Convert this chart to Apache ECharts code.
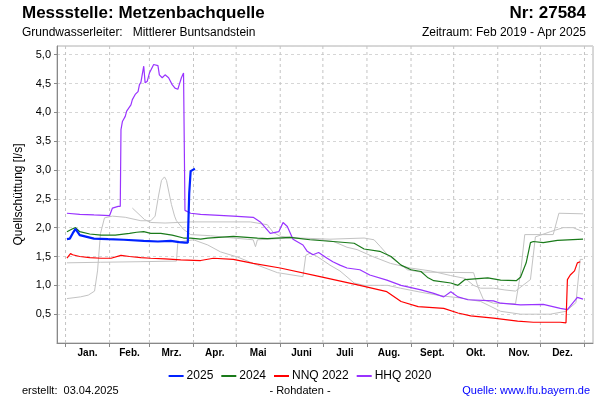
<!DOCTYPE html>
<html lang="de">
<head>
    <meta charset="UTF-8">
    <title>Messstelle Metzenbachquelle</title>
    <script src="https://cdn.jsdelivr.net/npm/echarts@6/dist/echarts.min.js"></script>
</head>
<body style="margin:0;background:#fff;">
    <div id="main" style="width:600px;height:400px;"></div>

<script>
// Tag im Jahr (0 = 1. Januar) und Schüttung in l/s
var monthNames = ['Jan.', 'Feb.', 'Mrz.', 'Apr.', 'Mai', 'Juni', 'Juli', 'Aug.', 'Sept.', 'Okt.', 'Nov.', 'Dez.'];
var monthStarts = [0, 31, 59, 90, 120, 151, 181, 212, 243, 273, 304, 334, 365];
var monthMids = [15.5, 45, 74.5, 105, 135.5, 166, 196.5, 227.5, 258, 288.5, 319, 349.5];

var data2025 = [[1,1.8],[3,1.81],[5,1.9],[7,1.98],[8,1.99],[10,1.87],[11,1.85],[20,1.81],[30,1.8],[41,1.79],
    [55,1.77],[65,1.76],[74,1.77],[80,1.75],[84,1.74],[86,1.74],[87,2.6],[88,2.98],[89,3.01],[91,3.02]];

var data2024 = [[1,1.93],[5,1.98],[7,2.0],[10,1.93],[17,1.89],[25,1.87],[35,1.87],[45,1.9],[50,1.92],[55,1.93],
    [60,1.9],[67,1.9],[75,1.87],[83,1.82],[88,1.82],[95,1.8],[100,1.82],[118,1.85],[135,1.82],[142,1.81],
    [158,1.83],[172,1.79],[188,1.76],[203,1.73],[210,1.63],[221,1.59],[229,1.5],[236,1.35],[243,1.27],
    [250,1.24],[255,1.13],[259,1.08],[271,1.04],[276,1.0],[281,1.1],[297,1.13],[306,1.09],[317,1.08],
    [320,1.14],[324,1.39],[327,1.74],[329,1.76],[336,1.74],[346,1.78],[364,1.8]];

var dataNNQ = [[1,1.47],[2,1.5],[3.5,1.55],[5,1.53],[10,1.5],[17,1.48],[25,1.47],[32,1.47],[39,1.52],[45,1.5],
    [53,1.48],[60,1.47],[70,1.46],[81,1.44],[95,1.43],[104,1.47],[118,1.45],[132,1.38],[151,1.3],[179,1.15],
    [207,1.0],[226,0.89],[236,0.72],[248,0.63],[266,0.6],[276,0.52],[285,0.47],[301,0.43],[318,0.38],
    [329,0.36],[348,0.36],[352,0.35],[353,1.1],[355,1.18],[358,1.25],[360,1.39],[362,1.41]];

var dataHHQ = [[1,2.25],[10,2.23],[20,2.22],[31,2.21],[33,2.34],[37,2.37],[38.5,2.37],[39,3.7],[40,3.84],
    [42,3.93],[43,4.02],[46,4.13],[47,4.22],[49,4.31],[51,4.36],[52,4.48],[53,4.52],[55,4.8],[56,4.51],
    [57.5,4.54],[59,4.68],[62,4.83],[63,4.81],[65,4.81],[66,4.65],[68,4.6],[70,4.65],[72.5,4.6],[75,4.48],
    [77,4.42],[79,4.4],[80,4.48],[81.5,4.6],[83,4.68],[84,2.3],[85,2.28],[88,2.25],[95,2.23],[118,2.2],
    [132,2.18],[137,2.1],[144,1.9],[150,1.93],[153,2.09],[156,2.02],[160,1.8],[167,1.7],[170,1.59],
    [174,1.53],[178,1.57],[184,1.47],[188,1.41],[193,1.35],[198,1.3],[207,1.27],[214,1.18],[226,1.09],
    [236,1.0],[250,0.92],[259,0.86],[266,0.8],[271,0.89],[276,0.8],[283,0.75],[301,0.73],[306,0.69],
    [320,0.66],[336,0.67],[348,0.6],[353,0.58],[360,0.79],[364,0.76]];

// weitere Jahre (grau)
var dataGrey1 = [[47,2.34],[55.6,2.14],[60,2.09],[70,2.08],[88,2.1],[130,2.1],[142,2.05],[146,1.92],[151,1.85],
    [165,1.82],[186,1.8],[210,1.82],[217,1.79],[221.5,1.67],[226.5,1.53],[240.5,1.27],[250,1.23],[287,1.22],
    [290,0.98],[294,0.75],[301,0.69],[316.5,0.68],[320,1.2],[323,1.88],[343,1.88],[347,2.25],[364,2.24]];

var dataGrey2 = [[1,0.77],[10.5,0.8],[16,0.83],[20.4,0.9],[22.5,1.25],[24.6,1.9],[27.4,2.17],[33,2.2],[42,2.18],
    [53,2.12],[60,2.12],[63,2.2],[65.4,2.55],[67.5,2.82],[69.6,2.88],[71,2.82],[72.4,2.83],[74.5,2.4],
    [76.7,2.2],[78,2.12],[83,1.97],[88,1.88],[102,1.86],[118,1.82],[132,1.79],[133.6,1.67],[135,1.79],
    [158,1.82],[179,1.79],[188.5,1.76],[198,1.66],[205,1.62],[216,1.5],[228.6,1.38],[242.6,1.3],
    [256.7,1.25],[270.8,1.17],[281,1.12],[287,1.0],[292,0.95],[301,0.95],[309,0.92],[316.5,0.9],
    [327,1.1],[330.5,1.84],[341,1.93],[350,2.0],[357,2.0],[364,1.93]];

var dataGrey3 = [[1,1.39],[24.6,1.4],[53,1.41],[78,1.42],[79,1.75],[90,1.79],[100,1.7],[109,1.58],[121,1.49],
    [135,1.35],[149,1.22],[167,1.15],[169,1.52],[172,1.56],[177,1.5],[186,1.35],[193,1.25],[203,1.04],
    [210,1.0],[226.5,1.0],[235.6,0.95],[250,0.88],[264,0.82],[278,0.78],[292,0.72],[306,0.55],[320,0.5],
    [341,0.5],[352,0.55],[359,0.7],[361,1.2],[362,1.45],[364,1.45]];

var xMin = -6, xMax = 371, yMax = 5.15;

var myChart = echarts.init(document.getElementById('main'));

var font = 'Liberation Sans, Arial, sans-serif';

function greyLine(d) {
    return {
        type: 'line', data: d, showSymbol: false, silent: true, z: 2,
        lineStyle: { color: '#c3c3c3', width: 1 }
    };
}

function colourLine(name, d, colour, w, z) {
    return {
        name: name, type: 'line', data: d, showSymbol: false, z: z,
        itemStyle: { color: colour },
        lineStyle: { color: colour, width: w }
    };
}

// senkrechte Gitterlinien an den Monatsgrenzen als einfache Linienserien
var monthGridSeries = monthStarts.map(function (d) {
    return {
        type: 'line', data: [[d, 0], [d, yMax]], showSymbol: false, silent: true, z: 1,
        lineStyle: { color: '#c4c4c4', width: 1, type: [3, 3] }
    };
});

myChart.setOption({
    animation: false,
    backgroundColor: '#fff',
    textStyle: { fontFamily: font },
    grid: {
        left: 57, right: 7, top: 46, bottom: 57,
        show: true, borderColor: '#b0b0b0', borderWidth: 1
    },
    graphic: [
        { type: 'text', left: 22, top: 5, style: { text: 'Messstelle: Metzenbachquelle', font: 'bold 17px ' + font, fill: '#000' } },
        { type: 'text', right: 14, top: 5, style: { text: 'Nr: 27584', font: 'bold 17px ' + font, fill: '#000' } },
        { type: 'text', left: 22, top: 27, style: { text: 'Grundwasserleiter:   Mittlerer Buntsandstein', font: '12px ' + font, fill: '#000' } },
        { type: 'text', right: 14, top: 27, style: { text: 'Zeitraum: Feb 2019 - Apr 2025', font: '12px ' + font, fill: '#000' } },
        { type: 'text', left: 22, top: 385, style: { text: 'erstellt:  03.04.2025', font: '11px ' + font, fill: '#000' } },
        { type: 'text', left: 'center', top: 385, style: { text: '- Rohdaten -', font: '11px ' + font, fill: '#000' } },
        { type: 'text', right: 10, top: 385, style: { text: 'Quelle: www.lfu.bayern.de', font: '11px ' + font, fill: '#0000ff' } }
    ],
    legend: {
        data: ['2025', '2024', 'NNQ 2022', 'HHQ 2020'],
        top: 365, left: 'center',
        icon: 'rect', itemWidth: 15, itemHeight: 2, itemGap: 8,
        textStyle: { fontSize: 12, color: '#000', fontFamily: font, padding: [0, 0, 0, -2] }
    },
    xAxis: {
        type: 'value', min: xMin, max: xMax,
        axisLine: { show: true, onZero: false, lineStyle: { color: '#888' } },
        axisTick: { show: true, length: 4, customValues: monthStarts, lineStyle: { color: '#888' } },
        axisLabel: {
            customValues: monthMids,
            fontSize: 10, fontWeight: 'bold', color: '#000', margin: 5,
            formatter: function (v) {
                var i = monthMids.indexOf(v);
                return i >= 0 ? monthNames[i] : '';
            }
        },
        splitLine: { show: false }
    },
    yAxis: {
        type: 'value', min: 0, max: yMax, interval: 0.5,
        name: 'Quellschüttung [l/s]', nameLocation: 'middle', nameGap: 27,
        nameTextStyle: { fontSize: 12, color: '#000' },
        axisLine: { show: true, onZero: false, lineStyle: { color: '#888' } },
        axisTick: { show: true, length: 3, lineStyle: { color: '#888' } },
        axisLabel: {
            fontSize: 11, color: '#000', margin: 6,
            showMinLabel: false, showMaxLabel: false,
            formatter: function (v) { return v.toFixed(1).replace('.', ','); }
        },
        splitLine: { show: true, lineStyle: { color: '#d6d6d6', type: [3, 3], width: 1 } }
    },
    series: monthGridSeries.concat([
        greyLine(dataGrey1),
        greyLine(dataGrey2),
        greyLine(dataGrey3),
        colourLine('HHQ 2020', dataHHQ, '#9933ff', 1.2, 3),
        colourLine('NNQ 2022', dataNNQ, '#ff0000', 1.2, 4),
        colourLine('2024', data2024, '#1a7a1a', 1.2, 5),
        colourLine('2025', data2025, '#0022ff', 2.2, 6)
    ])
});
</script>
</body>
</html>
